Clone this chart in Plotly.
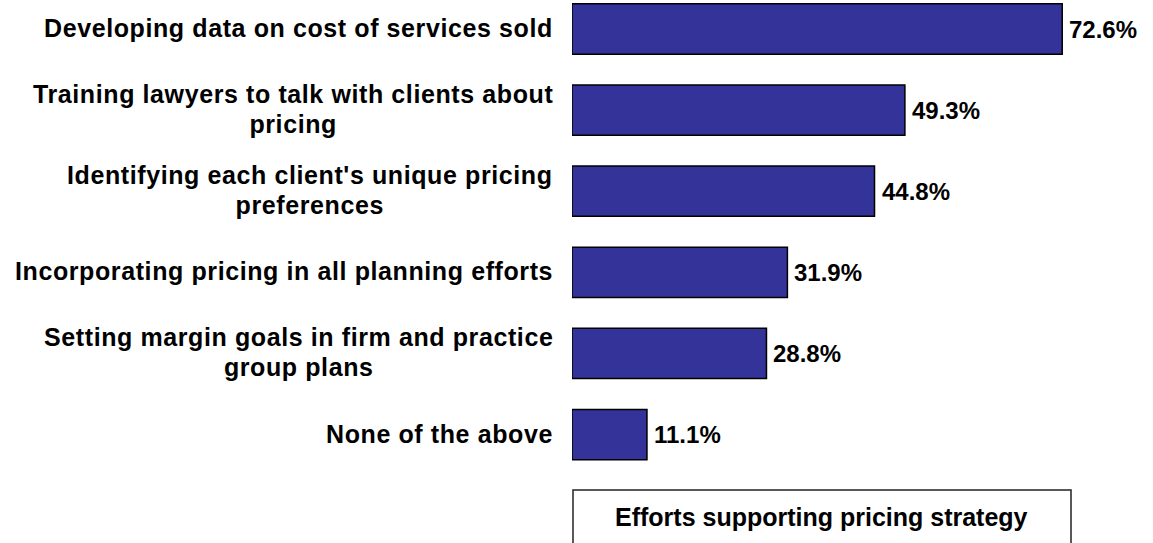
import plotly.graph_objects as go

# Survey responses: efforts supporting pricing strategy
categories = [
    "Developing data on cost of services sold",
    "Training lawyers to talk with clients about<br>pricing",
    "Identifying each client's unique pricing<br>preferences",
    "Incorporating pricing in all planning efforts",
    "Setting margin goals in firm and practice<br>group plans",
    "None of the above",
]
values = [72.6, 49.3, 44.8, 31.9, 28.8, 11.1]
series_name = "Efforts supporting pricing strategy"

FONT = "Liberation Sans, Arial, Helvetica, sans-serif"
BAR_COLOR = "#333399"

positions = list(range(len(categories)))

fig = go.Figure()
fig.add_trace(go.Bar(
    x=values,
    y=positions,
    orientation="h",
    width=0.62,
    marker=dict(color=BAR_COLOR, line=dict(color="#000000", width=1.5)),
    hoverinfo="skip",
    showlegend=False,
))

annotations = []
# Category labels: centred multi-line text, right edge against the bars.
# The outer font size sets the line pitch, the inner span the glyph size.
span_style = "font-size:25px;letter-spacing:0.6px"
for pos, label in zip(positions, categories):
    lines = label.split("<br>")
    text = "<br>".join(f'<span style="{span_style}">{ln}</span>' for ln in lines)
    annotations.append(dict(
        x=0, y=pos, xref="x", yref="y",
        text=text, showarrow=False,
        xanchor="right", yanchor="middle", xshift=-17, yshift=1, align="center",
        font=dict(family=FONT, size=23, color="#000000", weight="bold"),
    ))

# Value labels at the end of each bar
for pos, val in zip(positions, values):
    annotations.append(dict(
        x=val, y=pos, xref="x", yref="y",
        text=f"{val:.1f}%", showarrow=False,
        xanchor="left", yanchor="middle", xshift=5, yshift=0,
        font=dict(family=FONT, size=24, color="#000000", weight="bold"),
    ))

# Legend caption inside its frame below the bars
annotations.append(dict(
    x=0.5, y=-0.0551, xref="paper", yref="paper",
    text=series_name, showarrow=False,
    xanchor="center", yanchor="middle",
    font=dict(family=FONT, size=25, color="#000000", weight="bold"),
))

fig.update_layout(
    width=1153, height=543,
    margin=dict(l=572, r=82, t=0, b=53),
    paper_bgcolor="#ffffff", plot_bgcolor="#ffffff",
    xaxis=dict(range=[0, 73.9], visible=False, fixedrange=True),
    yaxis=dict(range=[5.684, -0.3576], visible=False, fixedrange=True),
    annotations=annotations,
    shapes=[dict(
        type="rect", xref="paper", yref="paper",
        x0=0.002, x1=1.0, y0=-0.3, y1=0.0,
        line=dict(color="#222222", width=1.5),
        fillcolor="rgba(0,0,0,0)",
    )],
    showlegend=False,
)

fig.write_html("out.html")
